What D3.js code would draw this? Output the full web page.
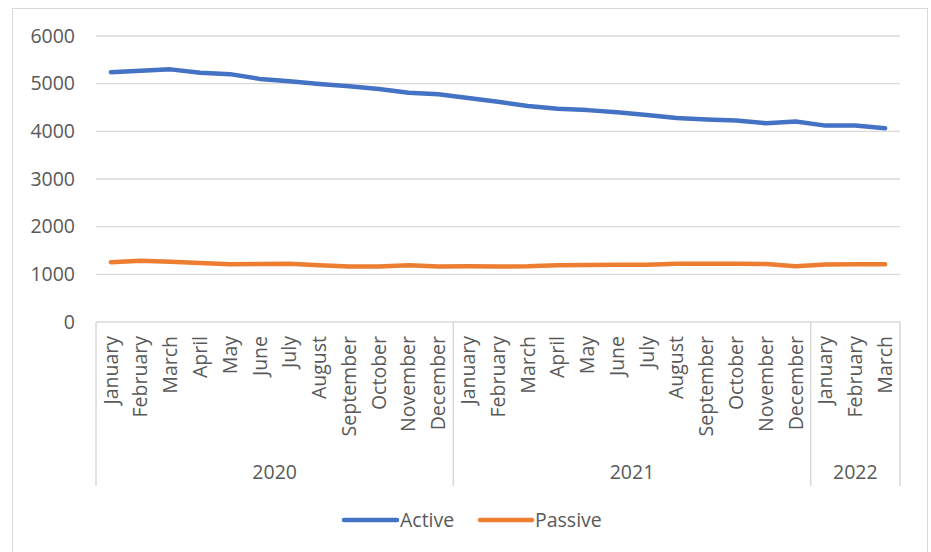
<!DOCTYPE html>
<html>
<head>
<meta charset="utf-8">
<script src="https://cdn.jsdelivr.net/npm/d3@7"></script>
<style>
  html, body { margin: 0; padding: 0; background: #fff; }
  svg { display: block; font-family: "Open Sans", Lato, sans-serif; }
</style>
</head>
<body>
<svg id="chart" width="931" height="552"></svg>
<script>
const months = ["January","February","March","April","May","June","July","August","September","October","November","December",
                "January","February","March","April","May","June","July","August","September","October","November","December",
                "January","February","March"];
const years = ["2020","2021","2022"];
const yearCounts = [12, 12, 3];
const active = [5240,5270,5300,5230,5200,5100,5050,4995,4945,4890,4810,4780,
                4700,4620,4530,4475,4445,4400,4345,4280,4250,4225,4170,4205,
                4120,4120,4065];
const passive = [1255,1285,1265,1238,1212,1217,1222,1190,1162,1162,1190,1162,
                 1168,1162,1168,1190,1196,1203,1203,1222,1224,1224,1217,1170,
                 1205,1210,1210];
const yTicks = [0,1000,2000,3000,4000,5000,6000];
const seriesNames = ["Active","Passive"];
const colors = ["#4472C4","#ED7D31"];

(function(){
const svg = d3.select("#chart");
const pL = 96, pR = 900, pT = 36, pB = 322;
const FS = "19.5px";
const idx = d3.range(months.length);

// outer border
svg.append("rect").attr("x",12.5).attr("y",8.5).attr("width",915).attr("height",560)
  .attr("fill","none").attr("stroke","#d9d9d9").attr("stroke-width",1);

const x = d3.scaleBand().domain(idx).range([pL,pR]).padding(0);
const y = d3.scaleLinear().domain([0,6000]).range([pB,pT]);

// gridlines
svg.append("g").selectAll("line").data(yTicks.filter(t=>t>0)).join("line")
  .attr("x1",pL).attr("x2",pR)
  .attr("y1",d=>y(d)).attr("y2",d=>y(d))
  .attr("stroke","#d9d9d9").attr("stroke-width",1.3);

// y axis labels
const yAxis = d3.axisLeft(y).tickValues(yTicks).tickSize(0).tickPadding(0).tickFormat(d3.format("d"));
const gy = svg.append("g").attr("transform",`translate(${pL-21},0)`).call(yAxis);
gy.select(".domain").remove();
gy.selectAll("text").attr("fill","#595959").style("font-size",FS).style("font-family","'Open Sans', sans-serif");

// category axis box
const boxBottom = 486;
const axisG = svg.append("g");
axisG.append("line").attr("x1",pL).attr("x2",pR).attr("y1",pB).attr("y2",pB)
  .attr("stroke","#d9d9d9").attr("stroke-width",1.5);
let cum = 0;
const bounds = [0];
yearCounts.forEach(c => { cum += c; bounds.push(cum); });
axisG.selectAll("line.sep").data(bounds).join("line").attr("class","sep")
  .attr("x1",d=> d < months.length ? x(d) : pR)
  .attr("x2",d=> d < months.length ? x(d) : pR)
  .attr("y1",pB).attr("y2",boxBottom)
  .attr("stroke","#d9d9d9").attr("stroke-width",1.5);

// month labels
const xAxis = d3.axisBottom(x).tickSize(0).tickFormat(i=>months[i]);
const gx = svg.append("g").attr("transform",`translate(0,${pB})`).call(xAxis);
gx.select(".domain").remove();
gx.selectAll("text")
  .attr("transform","rotate(-90)")
  .attr("x",-14).attr("y",0).attr("dy","0.35em")
  .style("text-anchor","end")
  .attr("fill","#595959").style("font-size",FS).style("font-family","'Open Sans', sans-serif");

// year labels
svg.append("g").selectAll("text").data(years).join("text")
  .attr("x",(d,i)=> {
    const a = x(bounds[i]);
    const b = bounds[i+1] < months.length ? x(bounds[i+1]) : pR;
    return (a+b)/2;
  })
  .attr("y",472).attr("dy","0.35em")
  .attr("text-anchor","middle").attr("fill","#595959")
  .style("font-size",FS).text(d=>d);

// lines
const line = d3.line().x((d,i)=>x(i)+x.bandwidth()/2).y(d=>y(d));
[active, passive].forEach((s,k)=>{
  svg.append("path").datum(s).attr("d",line)
    .attr("fill","none").attr("stroke",colors[k]).attr("stroke-width",4.5)
    .attr("stroke-linejoin","round").attr("stroke-linecap","round");
});

// legend
const legendItems = [{name:seriesNames[0],x1:344,x2:397,tx:400},{name:seriesNames[1],x1:480,x2:532,tx:535}];
const lg = svg.append("g");
legendItems.forEach((d,k)=>{
  lg.append("line").attr("x1",d.x1).attr("x2",d.x2).attr("y1",520).attr("y2",520)
    .attr("stroke",colors[k]).attr("stroke-width",4.5).attr("stroke-linecap","round");
  lg.append("text").attr("x",d.tx).attr("y",520).attr("dy","0.35em")
    .attr("fill","#595959").style("font-size",FS).text(d.name);
});
})();
</script>
</body>
</html>
